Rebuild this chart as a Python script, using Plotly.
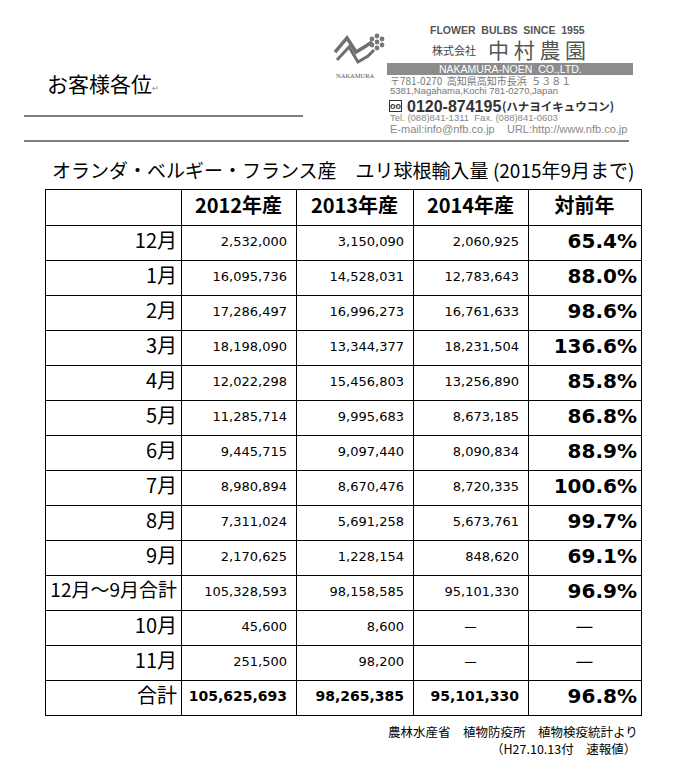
import itertools
import plotly.graph_objects as go

PAGE_W, PAGE_H = 678, 767
OFF = 8                      # default body margin of the html page
W, H = PAGE_W - OFF, PAGE_H - OFF

# table data
row_labels = ["12月", "1月", "2月", "3月", "4月", "5月", "6月", "7月", "8月", "9月",
              "12月～9月合計", "10月", "11月", "合計"]
col_headers = ["2012年産", "2013年産", "2014年産", "対前年"]
y2012 = [2532000, 16095736, 17286497, 18198090, 12022298, 11285714, 9445715,
         8980894, 7311024, 2170625, 105328593, 45600, 251500, 105625693]
y2013 = [3150090, 14528031, 16996273, 13344377, 15456803, 9995683, 9097440,
         8670476, 5691258, 1228154, 98158585, 8600, 98200, 98265385]
y2014 = [2060925, 12783643, 16761633, 18231504, 13256890, 8673185, 8090834,
         8720335, 5673761, 848620, 95101330, None, None, 95101330]
ratio = [65.4, 88.0, 98.6, 136.6, 85.8, 86.8, 88.9, 100.6, 99.7, 69.1,
         96.9, None, None, 96.8]

JP = "Noto Sans CJK JP"
NUM = "DejaVu Sans"
DASH = "—"

# table geometry (column widths in pixels, rows of equal height)
col_widths = [135, 115, 117, 115, 113]
bounds = [0] + list(itertools.accumulate(col_widths))
n_rows = len(row_labels) + 1
last = len(row_labels) - 1


def px(x, y):
    """page pixel -> paper coords"""
    return (x - OFF) / W, 1 - (y - OFF) / H


tx0, ty0 = px(46, 190)
tx1, ty1 = px(641, 715)

fig = go.Figure()

rows = [i + 1.5 for i in range(len(row_labels))]

# header
fig.add_trace(go.Scatter(
    x=[(bounds[j + 1] + bounds[j + 2]) / 2 for j in range(len(col_headers))],
    y=[0.5] * len(col_headers),
    text=[f"<b>{h}</b>" for h in col_headers],
    mode="text", textposition="middle center",
    textfont=dict(family=JP, size=20, color="black"),
))

# row labels
fig.add_trace(go.Scatter(
    x=[bounds[1] - 4] * len(row_labels), y=rows, text=row_labels,
    mode="text", textposition="middle left",
    textfont=dict(family=JP, size=[19 if len(t) > 4 else 20 for t in row_labels],
                  color="black"),
))


def add_number_column(values, col, pad, size, bold_size, dash_size, fmt, bold_all=False):
    right = bounds[col + 1] - pad
    centre = (bounds[col] + bounds[col + 1]) / 2
    xs, ys, texts, sizes, fams, poss = [], [], [], [], [], []
    for i, v in enumerate(values):
        ys.append(rows[i])
        if v is None:
            xs.append(centre)
            texts.append(DASH)
            sizes.append(dash_size)
            fams.append(JP)
            poss.append("middle center")
        else:
            s = fmt(v)
            bold = bold_all or i == last
            xs.append(right)
            texts.append(f"<b>{s}</b>" if bold else s)
            sizes.append(bold_size if i == last else size)
            fams.append(NUM)
            poss.append("middle left")
    fig.add_trace(go.Scatter(
        x=xs, y=ys, text=texts, mode="text", textposition=poss,
        textfont=dict(family=fams, size=sizes, color="black"),
    ))


add_number_column(y2012, 1, 9, 13, 14, 14, lambda v: f"{v:,}")
add_number_column(y2013, 2, 9, 13, 14, 14, lambda v: f"{v:,}")
add_number_column(y2014, 3, 9, 13, 14, 14, lambda v: f"{v:,}")
add_number_column(ratio, 4, 4, 20, 20, 20, lambda v: f"{v:.1f}%", bold_all=True)

fig.update_traces(hoverinfo="skip", cliponaxis=False)

fig.update_xaxes(
    domain=[tx0, tx1], range=[0, bounds[-1]],
    tickvals=bounds, showticklabels=False, ticks="",
    showgrid=True, gridcolor="black", gridwidth=1, zeroline=False,
    showline=True, mirror=True, linecolor="black", linewidth=1,
)
fig.update_yaxes(
    domain=[ty1, ty0], range=[n_rows, 0],
    tickvals=list(range(n_rows + 1)), showticklabels=False, ticks="",
    showgrid=True, gridcolor="black", gridwidth=1, zeroline=False,
    showline=True, mirror=True, linecolor="black", linewidth=1,
)


def note(text, x, y, size, color="black", family=JP, xanchor="left", **kw):
    ax, ay = px(x, y)
    fig.add_annotation(text=text, x=ax, y=ay, xref="paper", yref="paper",
                       xanchor=xanchor, yanchor="middle", showarrow=False,
                       font=dict(family=family, size=size, color=color), **kw)


# letter head, left part
note("お客様各位", 45, 83, 21)
note("↵", 150, 88, 8, color="#888")

shapes = []
for (x0, x1, y) in [(24, 303, 116), (24, 629, 141)]:
    a, b = px(x0, y)
    c, _ = px(x1, y)
    shapes.append(dict(type="line", xref="paper", yref="paper", x0=a, x1=c, y0=b, y1=b,
                       line=dict(color="#7f7f7f", width=2)))

# company block
note("<b>FLOWER  BULBS  SINCE  1955</b>", 507, 30, 10.5, color="#555",
     family="Liberation Sans", xanchor="center")
note("株式会社", 430, 50, 11, color="#444")
note("中 村 農 園", 486, 49, 21, color="#555")
bx0, by0 = px(387, 63)
bx1, by1 = px(633, 75)
shapes.append(dict(type="rect", xref="paper", yref="paper", x0=bx0, x1=bx1, y0=by1, y1=by0,
                   fillcolor="#8c8c8c", line=dict(width=0)))
note("NAKAMURA-NOEN  CO.,LTD.", 510, 69, 10.5, color="white",
     family="Liberation Sans", xanchor="center")
note("〒781-0270  高知県高知市長浜  ５３８１", 388, 80.5, 10, color="#777")
note("5381,Nagahama,Kochi 781-0270,Japan", 388, 91, 9.5, color="#777",
     family="Liberation Sans")
note("<b>0120-874195</b>", 405, 106, 16, color="#333", family="Liberation Sans")
note("<b>(ハナヨイキュウコン)</b>", 500, 106, 11.5, color="#333")
note("<b>oo</b>", 395, 106, 9, color="#333", family="Liberation Sans", xanchor="center",
     bgcolor="white", bordercolor="#333", borderwidth=1, borderpad=0)
note("Tel. (088)841-1311  Fax. (088)841-0603", 388, 118, 9.5, color="#888",
     family="Liberation Sans")
note("E-mail:info@nfb.co.jp    URL:http://www.nfb.co.jp", 388, 129.5, 11, color="#888",
     family="Liberation Sans")


# logo (rough)
def poly(pts):
    return "M " + " L ".join(f"{px(x, y)[0]:.4f},{px(x, y)[1]:.4f}" for x, y in pts)


for pts, w in [([(335, 52), (347, 38), (356, 52), (366, 46), (372, 42)], 3.5),
               ([(337, 60), (349, 47), (358, 62), (368, 56), (374, 50)], 3)]:
    shapes.append(dict(type="path", xref="paper", yref="paper", path=poly(pts),
                       line=dict(color="#6f6f6f", width=w)))
for cx, cy in [(377, 36), (382, 39), (382, 45), (377, 48), (372, 45), (372, 39), (377, 42)]:
    x0, y0 = px(cx - 2.4, cy - 2.4)
    x1, y1 = px(cx + 2.4, cy + 2.4)
    shapes.append(dict(type="circle", xref="paper", yref="paper", x0=x0, x1=x1, y0=y1, y1=y0,
                       fillcolor="#777", line=dict(width=0)))
note("NAKAMURA", 355, 75, 6.5, color="#555", family="Liberation Serif", xanchor="center")

# title and footnote
note("オランダ・ベルギー・フランス産　ユリ球根輸入量 (2015年9月まで)", 50, 169, 19)
note("農林水産省　植物防疫所　植物検疫統計より", 640, 731, 12.5, xanchor="right")
note("（H27.10.13付　速報値）", 638, 748, 12.5, xanchor="right")

fig.update_layout(
    width=W, height=H, autosize=False,
    margin=dict(l=0, r=0, t=0, b=0),
    paper_bgcolor="white", plot_bgcolor="white",
    showlegend=False, shapes=shapes,
)

fig.write_html("out.html")
